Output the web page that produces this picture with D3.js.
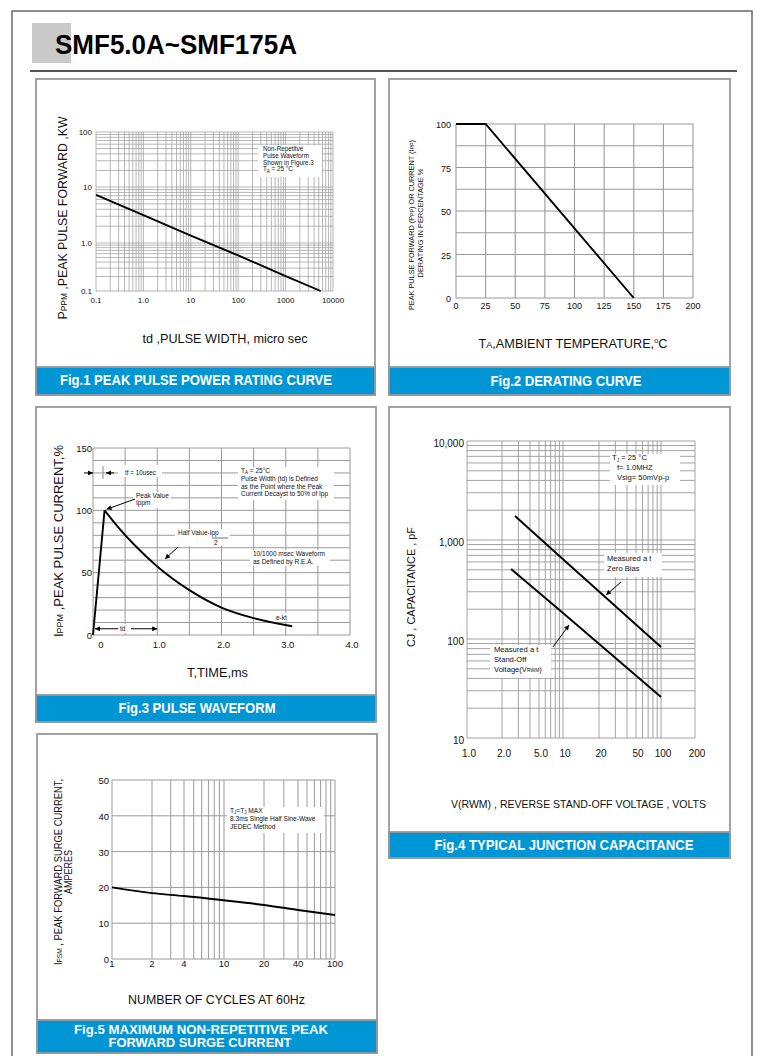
<!DOCTYPE html>
<html>
<head>
<meta charset="utf-8">
<script src="https://cdn.jsdelivr.net/npm/d3@7"></script>
<style>
body { margin: 0; background: #fff; }
svg { display: block; font-family: 'Liberation Sans', Arial, Helvetica, sans-serif; }
</style>
</head>
<body>
<svg id="canvas" width="775" height="1056"></svg>
<script>
// Fig.1 peak pulse power rating
let pulseWidth = [0.1, 1, 10, 100, 1000, 5500]
let peakPower = [7.2, 3.16, 1.36, 0.55, 0.205, 0.1]
let fig1XTicks = [0.1, 1, 10, 100, 1000, 10000]
let fig1XLabels = ['0.1', '1.0', '10', '100', '1000', '10000']
let fig1YTicks = [0.1, 1, 10, 100]
let fig1YLabels = ['0.1', '1.0', '10', '100']

// Fig.2 derating
let ambientTemp = [0, 25, 150]
let deratingPct = [100, 100, 0]
let fig2XTicks = [0, 25, 50, 75, 100, 125, 150, 175, 200]
let fig2YTicks = [0, 25, 50, 75, 100]

// Fig.3 pulse waveform
let pulseTime = [0, 0.18, 0.4, 0.65, 1.0, 1.5, 2.0, 2.5, 3.1]
let pulseCurrent = [0, 100, 86, 72, 55, 36, 22, 13.5, 7]
let fig3XTicks = [0, 1, 2, 3, 4]
let fig3XLabels = ['0', '1.0', '2.0', '3.0', '4.0']
let fig3YTicks = [0, 50, 100, 150]

// Fig.4 junction capacitance
let zeroBiasVolts = [2.76, 10, 100]
let zeroBiasCap = [1750, 640, 83]
let standOffVolts = [2.5, 10, 100]
let standOffCap = [510, 183, 26]
let fig4XTicks = [1, 2, 5, 10, 20, 50, 100, 200]
let fig4XLabels = ['1.0', '2.0', '5.0', '10', '20', '50', '100', '200']
let fig4YTicks = [10, 100, 1000, 10000]
let fig4YLabels = ['10', '100', '1,000', '10,000']

// Fig.5 surge current
let cycles = [1, 2, 4, 10, 20, 40, 100]
let surgeCurrent = [20, 18.4, 17.6, 16.4, 15.1, 13.7, 12.3]
let fig5XTicks = [1, 2, 4, 10, 20, 40, 100]
let fig5YTicks = [0, 10, 20, 30, 40, 50]

let svg = d3.select('#canvas')
let blue = '#0096d6'
let gridColor = '#9a9a9a'

let defs = svg.append('defs')
defs.append('marker')
    .attr('id', 'arrow')
    .attr('viewBox', '0 0 10 10')
    .attr('refX', 10)
    .attr('refY', 5)
    .attr('markerWidth', 6)
    .attr('markerHeight', 5)
    .attr('orient', 'auto')
    .append('path')
    .attr('d', 'M0,0L10,5L0,10Z')
    .attr('fill', '#000')

let logGrid = (lo, hi) => {
    let vals = []
    for (let e = Math.floor(Math.log10(lo)); e <= Math.ceil(Math.log10(hi)); e++) {
        for (let d = 1; d <= 9; d++) {
            let v = +(d * Math.pow(10, e)).toPrecision(4)
            if (v >= lo * 0.999 && v <= hi * 1.001) vals.push(v)
        }
    }
    return vals
}
let linGrid = (lo, hi, step) => d3.range(lo, hi + step / 2, step)

let addText = (g, x, y, str, size, opts = {}) => {
    let t = g.append('text')
             .attr('x', x)
             .attr('y', y)
             .attr('font-size', size)
             .attr('fill', opts.fill || '#111')
             .text(str)
    if (opts.anchor) t.attr('text-anchor', opts.anchor)
    if (opts.weight) t.attr('font-weight', opts.weight)
    if (opts.len) t.attr('textLength', opts.len).attr('lengthAdjust', 'spacingAndGlyphs')
    return t
}

// parts: [text, fontSize, dy]
let richText = (g, x, y, parts, size, opts = {}) => {
    let t = g.append('text')
             .attr('x', x)
             .attr('y', y)
             .attr('font-size', size)
             .attr('fill', '#111')
    if (opts.anchor) t.attr('text-anchor', opts.anchor)
    if (opts.rotate) t.attr('transform', 'rotate(-90,' + x + ',' + y + ')')
    if (opts.len) t.attr('textLength', opts.len).attr('lengthAdjust', 'spacingAndGlyphs')
    parts.forEach((p) => {
        let s = t.append('tspan').text(p[0])
        if (p[1]) s.attr('font-size', p[1])
        if (p[2]) s.attr('dy', p[2])
    })
    return t
}

let whiteBox = (g, x, y, w, h) => {
    g.append('rect').attr('x', x).attr('y', y).attr('width', w).attr('height', h).attr('fill', '#fff')
}

let drawGrid = (g, x, y, xVals, yVals, width) => {
    let [xa, xb] = d3.extent(x.range())
    let [ya, yb] = d3.extent(y.range())
    g.append('g').selectAll('line')
     .data(xVals)
     .enter()
     .append('line')
     .attr('x1', (v) => x(v)).attr('x2', (v) => x(v))
     .attr('y1', ya).attr('y2', yb)
     .attr('stroke', gridColor).attr('stroke-width', width)
    g.append('g').selectAll('line')
     .data(yVals)
     .enter()
     .append('line')
     .attr('y1', (v) => y(v)).attr('y2', (v) => y(v))
     .attr('x1', xa).attr('x2', xb)
     .attr('stroke', gridColor).attr('stroke-width', width)
}

let drawCurve = (g, x, y, xs, ys, curve) => {
    let line = d3.line()
                 .x((d) => x(d[0]))
                 .y((d) => y(d[1]))
                 .curve(curve || d3.curveLinear)
    g.append('path')
     .datum(xs.map((v, i) => [v, ys[i]]))
     .attr('d', line)
     .attr('fill', 'none')
     .attr('stroke', '#000')
     .attr('stroke-width', 1.9)
}

let arrow = (g, x1, y1, x2, y2) => {
    g.append('line')
     .attr('x1', x1).attr('y1', y1).attr('x2', x2).attr('y2', y2)
     .attr('stroke', '#000').attr('stroke-width', 1)
     .attr('marker-end', 'url(#arrow)')
}

// page frame and header
svg.append('rect').attr('x', 12).attr('y', 11).attr('width', 740).attr('height', 1060)
   .attr('fill', 'none').attr('stroke', '#6a6a6a').attr('stroke-width', 1.5)
svg.append('rect').attr('x', 32).attr('y', 23).attr('width', 39).attr('height', 40).attr('fill', '#c9c9c9')
addText(svg, 55, 54, 'SMF5.0A~SMF175A', 28, { weight: 'bold', len: 242, fill: '#000' })
svg.append('line').attr('x1', 30).attr('x2', 737).attr('y1', 71).attr('y2', 71)
   .attr('stroke', '#555').attr('stroke-width', 1.8)

let drawPanel = (x0, y0, x1, y1, barTop, lines, size) => {
    svg.append('rect').attr('x', x0).attr('y', y0).attr('width', x1 - x0).attr('height', y1 - y0)
       .attr('fill', '#fff').attr('stroke', '#999').attr('stroke-width', 1.8)
    svg.append('rect').attr('x', x0).attr('y', barTop).attr('width', x1 - x0).attr('height', y1 - barTop)
       .attr('fill', blue).attr('stroke', '#999').attr('stroke-width', 1.8)
    lines.forEach((l) => {
        addText(svg, l[1], l[2], l[0], size, { anchor: 'middle', weight: 'bold', fill: '#fff', len: l[3] })
    })
}

drawPanel(36, 79, 375, 395, 367, [['Fig.1 PEAK PULSE POWER RATING CURVE', 196, 385, 272]], 14)
drawPanel(389, 79, 730, 395, 367, [['Fig.2 DERATING CURVE', 566, 386, 151]], 14)
drawPanel(36, 407, 376, 722, 695, [['Fig.3 PULSE WAVEFORM', 197, 713, 157]], 14)
drawPanel(389, 407, 730, 858, 832, [['Fig.4 TYPICAL JUNCTION CAPACITANCE', 564, 850, 259]], 14)
drawPanel(37, 734, 377, 1053, 1020, [['Fig.5 MAXIMUM NON-REPETITIVE PEAK', 201, 1034, 254],
                                      ['FORWARD SURGE CURRENT', 200, 1047, 183]], 12.5)

// ---------- Fig.1 ----------
let drawFig1 = () => {
    let g = svg.append('g')
    let x = d3.scaleLog().domain([0.1, 10000]).range([96, 333])
    let y = d3.scaleLog().domain(fig1YTicks).range([291, 243, 187, 132])
    drawGrid(g, x, y, logGrid(0.1, 10000), logGrid(0.1, 100), 0.7)

    whiteBox(g, 258, 145, 64, 32)
    let note = ['Non-Repetitve', 'Pulse Waveform', 'Shown in Figure.3']
    note.forEach((s, i) => addText(g, 263, 151 + i * 6.8, s, 6.3))
    richText(g, 263, 171.4, [['T'], ['A', 4.5, 1.2], [' = 25 °C', null, -1.2]], 6.3)

    drawCurve(g, x, y, pulseWidth, peakPower)

    fig1XTicks.forEach((v, i) => addText(g, x(v), 303, fig1XLabels[i], 8, { anchor: 'middle' }))
    fig1YTicks.forEach((v, i) => addText(g, 92, y(v) + 3, fig1YLabels[i], 8, { anchor: 'end' }))

    addText(g, 225, 343, 'td ,PULSE WIDTH, micro sec', 12, { anchor: 'middle', len: 165 })
    richText(g, 67, 218, [['P'], ['PPM', 8.5], [' ,PEAK PULSE FORWARD ,KW']], 12.5,
             { anchor: 'middle', rotate: true, len: 203 })
}

// ---------- Fig.2 ----------
let drawFig2 = () => {
    let g = svg.append('g')
    let x = d3.scaleLinear().domain([0, 200]).range([456, 693])
    let y = d3.scaleLinear().domain([0, 100]).range([298, 124])
    drawGrid(g, x, y, linGrid(0, 200, 25), linGrid(0, 100, 12.5), 1.1)
    drawCurve(g, x, y, ambientTemp, deratingPct)

    fig2XTicks.forEach((v) => addText(g, x(v), 309, String(v), 9, { anchor: 'middle' }))
    fig2YTicks.forEach((v) => addText(g, 451, y(v) + 4, String(v), 9, { anchor: 'end' }))

    richText(g, 573, 348, [['T'], ['A', 8.5], [',AMBIENT TEMPERATURE,'], ['o', 7, -5], ['C', null, 5]], 12,
             { anchor: 'middle', len: 189 })
    richText(g, 414, 225, [['PEAK PULSE FORWARD (P'], ['PP', 5.5], [') OR CURRENT (I'], ['PP', 5.5], [')']], 7.6,
             { anchor: 'middle', rotate: true, len: 170 })
    richText(g, 423, 223, [['DERATING IN PERCENTAGE %']], 7.6, { anchor: 'middle', rotate: true, len: 109 })
}

// ---------- Fig.3 ----------
let drawFig3 = () => {
    let g = svg.append('g')
    let x = d3.scaleLinear().domain([0, 4]).range([93, 350])
    let y = d3.scaleLinear().domain([0, 150]).range([635, 448])
    drawGrid(g, x, y, linGrid(0, 4, 0.5), linGrid(0, 150, 10), 1)

    // white patches behind the notes
    whiteBox(g, 118, 465, 44, 12)
    whiteBox(g, 238, 467, 96, 33)
    whiteBox(g, 133, 492, 38, 16)
    whiteBox(g, 175, 529, 55, 17)
    whiteBox(g, 250, 550, 80, 16)
    whiteBox(g, 274, 613, 17, 8)
    whiteBox(g, 118, 624, 12, 9)

    // tf marker
    let yTf = y(130)
    g.append('line').attr('x1', 103).attr('x2', 103).attr('y1', yTf - 7).attr('y2', yTf + 6)
     .attr('stroke', '#888').attr('stroke-width', 1)
    arrow(g, 84, yTf, 93, yTf)
    arrow(g, 114, yTf, 106, yTf)
    addText(g, 125, yTf + 2.5, 'tf = 10usec', 6.3)

    richText(g, 241, 473, [['T'], ['A', 4.5, 1.2], [' = 25°C', null, -1.2]], 6.5)
    let note = ['Pulse Width (td) is Defined', 'as the Point where the Peak', 'Current Decayst to 50% of Ipp']
    note.forEach((s, i) => addText(g, 241, 481 + i * 7.6, s, 6.5))

    addText(g, 136, 498, 'Peak Value', 6.5)
    addText(g, 136, 505, 'Ippm', 6.5)
    arrow(g, 135, 499, x(pulseTime[1]) + 2, y(pulseCurrent[1]) - 1)

    addText(g, 178, 535, 'Half Value-Ipp', 6.5)
    g.append('line').attr('x1', 212).attr('x2', 228).attr('y1', 538).attr('y2', 538)
     .attr('stroke', '#111').attr('stroke-width', 0.6)
    addText(g, 214, 544.5, '2', 6.5)
    arrow(g, 178, 547, 165, 559)

    addText(g, 253, 556, '10/1000 msec Waveform', 6.5)
    addText(g, 253, 564, 'as Defined by R.E.A.', 6.5)
    addText(g, 276, 620, 'e-kt', 6.5)

    // td span
    let yTd = y(5)
    arrow(g, 118, yTd, x(0) + 2, yTd)
    arrow(g, 131, yTd, x(1), yTd)
    addText(g, 120, yTd + 2.3, 'td', 6.3)

    drawCurve(g, x, y, pulseTime.slice(0, 2), pulseCurrent.slice(0, 2))
    drawCurve(g, x, y, pulseTime.slice(1), pulseCurrent.slice(1), d3.curveMonotoneX)

    fig3XTicks.forEach((v, i) => addText(g, x(v) + (i === 0 ? 8 : 2), 648, fig3XLabels[i], 9.5, { anchor: 'middle' }))
    fig3YTicks.forEach((v) => addText(g, 92, y(v) + 3.5, String(v), 9.5, { anchor: 'end' }))

    addText(g, 217.5, 677, 'T,TIME,ms', 12, { anchor: 'middle', len: 61 })
    richText(g, 63, 541, [['I'], ['PPM', 9], [' ,PEAK PULSE  CURRENT,%']], 13,
             { anchor: 'middle', rotate: true, len: 192 })
}

// ---------- Fig.4 ----------
let drawFig4 = () => {
    let g = svg.append('g')
    let x = d3.scaleLog().domain(fig4XTicks).range([467, 502, 539, 563, 599, 636, 661, 695])
    let y = d3.scaleLog().domain([10, 10000]).range([738, 441])
    drawGrid(g, x, y, logGrid(1, 200), logGrid(10, 10000), 0.9)

    whiteBox(g, 610, 454, 70, 31)
    richText(g, 612, 460, [['T'], ['J', 5, 1.5], [' = 25 °C', null, -1.5]], 7.6)
    addText(g, 617, 470, 'f= 1.0MHZ', 7.6)
    addText(g, 617, 480, 'Vsig= 50mVp-p', 7.6)

    whiteBox(g, 604, 553, 58, 24)
    addText(g, 607, 561, 'Measured a t', 7.6)
    addText(g, 607, 571, 'Zero Bias', 7.6)
    arrow(g, 621, 582, 606, 595)

    whiteBox(g, 490, 645, 61, 33)
    addText(g, 494, 652, 'Measured a t', 7.6)
    addText(g, 494, 662, 'Stand-Off', 7.6)
    richText(g, 494, 672, [['Voltage(V'], ['RWM', 5], [')']], 7.6)
    arrow(g, 553, 647, 569, 625)

    drawCurve(g, x, y, zeroBiasVolts, zeroBiasCap)
    drawCurve(g, x, y, standOffVolts, standOffCap)

    fig4XTicks.forEach((v, i) => addText(g, x(v) + 2, 757, fig4XLabels[i], 10, { anchor: 'middle' }))
    fig4YTicks.forEach((v, i) => addText(g, 464, y(v) + 6, fig4YLabels[i], 10, { anchor: 'end' }))

    addText(g, 578.5, 808, 'V(RWM) , REVERSE STAND-OFF VOLTAGE , VOLTS', 11.5, { anchor: 'middle', len: 255 })
    richText(g, 415, 587, [['CJ , CAPACITANCE , pF']], 11, { anchor: 'middle', rotate: true, len: 120 })
}

// ---------- Fig.5 ----------
let drawFig5 = () => {
    let g = svg.append('g')
    let x = d3.scaleLog().domain(fig5XTicks).range([112, 152, 184, 224, 264, 298, 335])
    let y = d3.scaleLinear().domain([0, 50]).range([959, 780])
    drawGrid(g, x, y, logGrid(1, 100), fig5YTicks, 1)

    whiteBox(g, 227, 807, 97, 26)
    richText(g, 230, 813, [['T'], ['J', 4.5, 1.2], ['=T', null, -1.2], ['J', 4.5, 1.2], [' MAX', null, -1.2]], 6.6)
    addText(g, 230, 821, '8.3ms Single Half Sine-Wave', 6.6)
    addText(g, 230, 829, 'JEDEC Method', 6.6)

    drawCurve(g, x, y, cycles, surgeCurrent, d3.curveMonotoneX)

    fig5XTicks.forEach((v) => addText(g, x(v), 967, String(v), 9.5, { anchor: 'middle' }))
    fig5YTicks.forEach((v) => addText(g, 109, y(v) + 4, String(v), 9.5, { anchor: 'end' }))

    addText(g, 216.5, 1004, 'NUMBER OF CYCLES AT 60Hz', 12, { anchor: 'middle', len: 177 })
    richText(g, 62, 872, [['I'], ['FSM', 7.5], [' , PEAK FORWARD SURGE CURRENT,']], 10.5,
             { anchor: 'middle', rotate: true, len: 186 })
    richText(g, 72, 872, [['AMPERES']], 10.5, { anchor: 'middle', rotate: true, len: 44 })
}

drawFig1()
drawFig2()
drawFig3()
drawFig4()
drawFig5()
</script>
</body>
</html>
